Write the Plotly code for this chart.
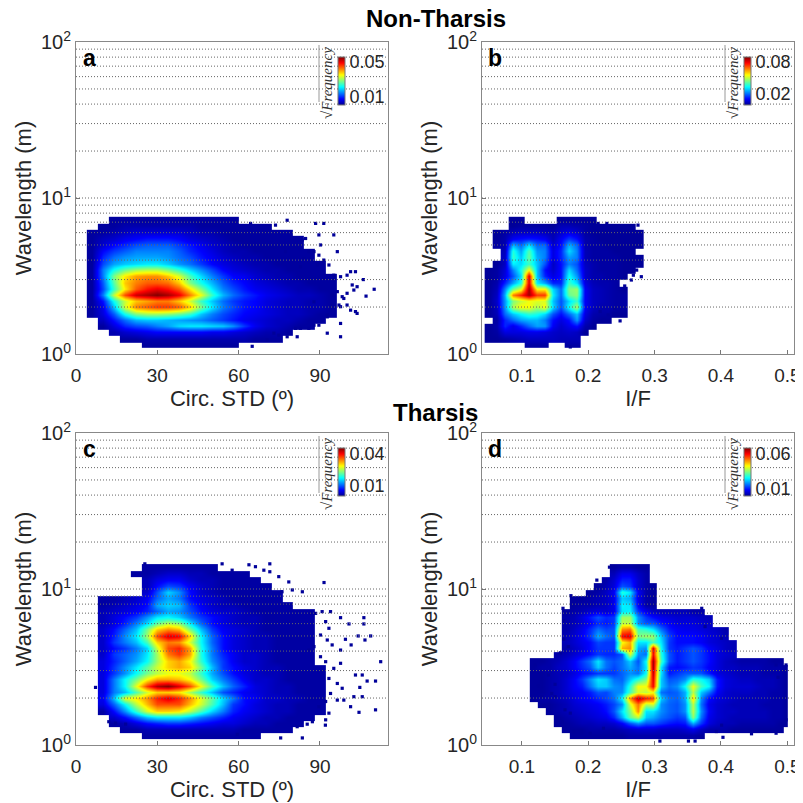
import plotly.graph_objects as go

_ = None
WAVE = [1.15,1.26,1.38,1.51,1.66,1.82,2.0,2.19,2.4,2.63,2.88,3.16,3.47,3.8,4.17,4.57,5.01,5.5,6.03,6.61,7.24,7.94,8.71,9.55,10.5,11.5,12.6,13.8]
STD_X = [6,10,14,18,22,26,30,34,38,42,46,50,54,58,62,66,70,74,78,82,86,90,94,98,102,106,110]
IF_X_B = [0.05,0.062,0.074,0.086,0.098,0.11,0.122,0.134,0.146,0.158,0.17,0.182,0.194,0.206,0.218,0.23,0.242,0.254,0.266,0.278]
IF_X_D = [.118,.13,.142,.154,.166,.178,.19,.202,.214,.226,.238,.25,.262,.274,.286,.298,.31,.322,.334,.346,.358,.37,.382,.394,.406,.418,.43,.442,.454,.466,.478,.49,.497]
GRID_LINES = [2,3,4,5,6,7,8,9,10,20,30,40,50,60,70,80,90]

# values in units of 0.001 (sqrt frequency), rows from short to long wavelength
Z_A = [
[_,_,_,_,_,1,1,1,1,1,1,1,1,1],
[_,_,_,1,1,2,2,2,2,2,2,2,2,2,2,1,1,1],
[_,_,2,4,5,6,7,7,7,7,7,6,6,5,4,3,2,2,1],
[_,1,5,9,11,12,14,16,19,20,20,19,18,15,10,6,4,3,2,1,1],
[_,3,8,13,17,18,18,17,16,15,14,12,10,8,6,5,4,3,3,2,1,1],
[1,5,12,22,28,30,30,29,27,24,18,14,11,9,7,6,5,4,3,3,2,1,1],
[1,6,18,33,42,44,46,46,44,38,28,20,14,11,8,7,5,4,3,3,2,2,1],
[1,8,22,32,38,40,42,42,38,32,24,18,13,10,8,7,5,4,3,3,2,2,1],
[1,14,32,45,52,54,56,54,50,42,34,24,17,13,10,8,6,5,4,3,3,2,1],
[1,11,24,36,44,48,50,48,44,36,28,20,14,11,8,6,5,4,3,2,2,1,1],
[1,12,26,38,42,44,44,43,38,28,22,17,12,9,7,5,4,3,2,2,1,1,1],
[1,14,28,36,40,41,41,38,33,25,19,14,10,7,6,4,3,2,2,1,1,1,1],
[1,14,22,27,30,31,31,28,24,19,15,11,7,5,4,3,2,2,1,1,1,1],
[1,11,16,18,19,20,20,18,15,13,10,7,5,4,3,2,2,1,1,1,1,1],
[1,9,13,15,16,16,16,15,13,11,8,6,4,3,2,2,1,1,1,1,1],
[1,7,10,12,14,14,14,14,12,9,7,5,3,2,2,1,1,1,1,1,1],
[1,4,7,9,11,12,12,12,10,8,6,4,3,2,1,1,1,1,1,1],
[1,3,4,6,7,8,8,8,7,5,4,3,2,1,1,1,1,1,1,1],
[1,1,2,3,4,4,4,4,4,3,2,2,1,1,1,1,1,1,1],
[_,1,1,2,2,2,2,2,2,2,1,1,1,1,1,1,1],
[_,_,1,1,1,1,1,1,1,1,1,1,1,1],
]
Z_B = [
[_,_,_,_,_,2,2,2,_,_,2,2],
[1,1,2,3,4,5,5,5,5,4,4,4],
[1,2,8,8,8,9,9,8,6,5,6,5,1],
[1,3,14,9,14,20,25,24,10,6,9,12,3,1],
[_,2,14,20,25,27,27,22,12,8,12,24,6,2,1,1],
[1,4,20,28,33,37,35,30,18,12,20,28,8,3,2,2,1,1],
[1,5,24,48,55,55,48,55,30,18,34,48,10,5,3,3,2,2],
[1,6,24,44,50,54,52,52,28,18,30,38,10,5,4,3,2,2],
[1,5,26,66,74,85,72,72,32,20,42,45,10,5,4,3,2,2],
[1,4,22,42,52,85,55,55,30,20,44,46,10,5,4,3,2,1],
[1,3,14,25,35,80,32,25,14,14,38,30,8,4,3,3,2],
[1,2,8,18,30,80,28,14,8,12,34,24,6,3,3,2,2,1],
[1,2,7,22,34,55,28,12,6,12,30,20,6,3,2,2,2,1,1],
[_,1,5,32,30,38,28,18,5,12,22,18,5,3,2,2,2,1,1,1],
[_,_,5,38,28,42,26,22,8,14,25,22,4,2,2,2,2,1,1,1],
[_,_,4,36,25,40,24,22,8,14,30,22,4,2,2,2,1,1,1],
[_,2,3,26,20,30,20,20,6,12,26,20,3,2,2,1,1,1,1,1],
[_,1,3,10,12,13,12,10,4,10,16,12,3,2,1,1,1,1,1,1],
[_,1,2,4,5,5,5,4,3,6,8,6,2,1,1,1,1,1,1,1],
[_,_,_,1,2,2,2,2,1,4,4,3,2,1,1,1,1,1,1],
[_,_,_,1,1,_,_,_,_,1,1,1,1,1],
]
Z_C = [
[_,_,_,_,_,1,1,1,1,1,1,1,1,1,1,1],
[_,_,_,1,1,2,2,2,2,2,2,2,2,2,1,1,1,1,1],
[_,_,1,2,4,6,7,8,8,7,6,5,4,4,3,2,2,1,1,1],
[_,_,3,6,10,14,16,16,16,14,11,9,7,5,4,3,2,2,1,1,1],
[_,1,6,12,19,26,30,30,29,25,20,15,11,7,5,4,3,2,2,1,1,1],
[_,4,10,17,25,31,36,36,36,31,26,20,14,8,6,4,3,2,2,1,1,1],
[_,5,14,27,29,33,38,41,38,33,27,21,15,11,6,5,3,3,2,2,1,1],
[_,4,11,14,20,26,30,30,29,24,19,14,9,7,5,4,3,2,2,1,1,1],
[_,4,11,17,27,37,43,45,41,36,28,20,14,10,7,4,3,2,2,1,1,1],
[_,4,11,17,22,28,32,32,31,28,22,15,11,8,5,3,3,2,1,1,1,1],
[_,4,8,12,17,22,25,27,27,25,19,13,9,6,4,3,2,2,1,1,1,1],
[_,4,8,12,16,21,26,30,32,30,22,14,8,6,4,3,2,2,1,1,1,1],
[_,4,7,10,13,17,24,30,32,28,19,12,8,5,3,3,2,1,1,1,1],
[_,3,8,10,12,16,24,34,37,32,18,11,7,5,3,3,2,1,1,1,1],
[_,3,6,8,11,15,26,36,38,32,18,11,6,4,3,2,2,1,1,1,1],
[_,3,8,11,14,20,30,34,33,26,17,10,6,4,3,2,2,1,1,1,1],
[_,3,7,12,16,24,36,41,40,30,17,10,6,4,3,2,2,1,1,1,1],
[_,3,6,10,14,22,30,33,31,22,14,8,5,4,3,2,1,1,1,1,1],
[_,2,4,7,11,15,21,25,23,16,10,6,4,3,2,2,1,1,1,1,1],
[_,2,4,6,8,12,16,17,15,11,8,6,4,3,2,2,1,1,1,1,1],
[_,2,3,4,5,7,10,13,12,9,6,4,3,3,2,1,1,1,1,1,1],
[_,1,2,3,4,6,13,15,14,8,5,3,2,2,1,1,1,1,1],
[_,1,1,2,3,5,10,13,11,6,4,3,2,1,1,1,1,1],
[_,_,_,_,_,3,9,15,12,6,3,2,1,1,1,1,1,1],
[_,_,_,_,_,2,6,9,8,5,3,2,1,1,1,1,1],
[_,_,_,_,_,2,4,5,5,3,2,2,1,1,1,1],
[_,_,_,_,1,1,2,3,3,2,2,1,1,1,1],
[_,_,_,_,_,1,1,1,1,1,1,1],
]
Z_D = [
[_,_,_,_,_,1,1,1,1,1,1,1,2,2,2,2,2,2,2,2,2,1],
[_,_,_,_,1,1,1,2,2,2,2,3,4,5,5,5,4,4,4,5,7,4,2,2,2,1,1,1,1,1,1,1],
[_,_,_,1,1,2,3,3,4,4,5,8,14,18,14,14,12,10,9,10,20,12,6,4,3,3,2,2,2,2,2,1,1],
[_,_,_,1,2,3,4,5,6,7,11,20,32,38,22,20,16,14,12,14,35,16,7,5,4,3,3,3,3,3,2,2,1],
[_,_,1,2,3,4,5,6,7,9,14,24,34,50,24,24,18,15,14,18,38,18,8,5,4,4,3,3,3,3,2,2,1],
[_,1,1,2,3,5,6,7,8,10,13,18,40,52,38,40,18,15,14,18,38,16,7,5,4,3,3,3,3,2,2,2,1],
[1,2,2,3,4,6,8,9,11,13,16,25,50,64,58,55,22,16,15,20,45,18,9,6,5,4,3,3,3,3,2,2,1],
[1,1,2,3,5,7,8,10,14,13,17,18,30,40,38,42,16,14,15,20,38,22,16,8,5,4,4,4,3,3,2,2,1],
[1,1,2,3,5,8,10,16,22,22,18,17,28,42,42,60,22,16,18,26,42,30,25,10,6,5,5,5,4,3,3,2,1],
[1,1,2,3,5,8,12,18,24,22,16,15,22,28,34,62,22,14,15,18,28,26,22,10,6,5,4,4,3,3,3,2,1],
[1,1,2,3,4,6,9,10,12,12,12,15,18,16,26,64,24,10,12,14,14,14,10,6,5,4,3,3,3,2,2,2,1],
[1,2,2,4,5,8,11,14,22,16,13,16,20,16,24,66,24,10,9,10,12,11,8,6,4,4,3,3,3,2,2,2,1],
[1,1,2,3,5,8,12,16,24,16,14,16,22,14,26,66,30,14,10,12,14,12,9,6,4,3,2,2,2,2,1,1],
[_,_,_,2,3,5,7,9,12,11,11,14,40,18,16,60,28,14,10,12,14,12,9,6,5,4],
[_,_,_,_,2,4,6,9,12,12,12,48,50,20,18,62,26,12,10,12,14,12,8,6,4,3],
[_,_,_,_,3,5,7,9,13,12,12,42,48,24,24,30,24,12,9,9,9,8,6,5,4,3],
[_,_,_,_,3,5,8,12,20,16,14,60,62,34,36,36,22,13,9,9,9,8,6,5,3],
[_,_,_,_,2,4,7,11,16,13,14,50,52,30,28,24,16,10,8,7,7,6,5,4,2],
[_,_,_,_,2,3,5,8,11,10,12,38,38,18,14,14,10,8,6,6,6,5,4],
[_,_,_,_,2,3,6,10,14,11,12,36,36,18,12,9,7,6,5,5,5,4,3],
[_,_,_,_,1,2,3,5,6,5,7,24,25,12,7,4,3,3,3,3,2,2],
[_,_,_,_,_,1,2,2,3,4,7,25,24,8,2,1],
[_,_,_,_,_,1,1,2,3,4,7,22,20,7,2,1],
[_,_,_,_,_,_,_,1,2,4,8,28,24,8,2,1],
[_,_,_,_,_,_,_,_,1,3,6,14,12,5,2,1],
[_,_,_,_,_,_,_,_,_,2,5,10,10,5,2],
[_,_,_,_,_,_,_,_,_,_,3,7,7,4,2],
[_,_,_,_,_,_,_,_,_,_,1,2,2,1,1],
]

SPECK_A_X = [96.4,101.3,103.1,103.7,100,98.8,103.7,101.3,97.6,97.6,97.6,92.7,87.8,82.8,81.6,77.9,95.1,91.4,88.4,77.9,73.6,64.4,89.6,84.7,77.3,82.8,65,92.7,87.8,95.1,110,107,106,
             83.5,85.9,87.8,90.2,84.1,86.5,89.6,91.4,93.3,89,95.1,97.6,100,101.9,96.4,94.5,98.2,102.5,94.5,97,100,103.1,92.7,90.8,89.6,85.9,81,74.8,73,70.5]
SPECK_A_Y = [4.53,3.37,3.37,2.7,2.45,2.27,1.82,1.91,2.01,1.57,1.29,1.36,1.53,1.46,1.29,1.29,5.8,6.87,6.87,7.2,6.7,6.87,5.8,5.5,4.53,3.63,1.12,1.73,2.16,3.2,2.6,2.35,3.0,
             5.38,4.53,4.53,5.0,4.1,4.1,4.3,4.0,3.72,3.72,2.98,3.13,3.2,2.77,2.51,2.39,2.33,2.57,2.06,2.06,2.06,1.87,1.78,1.65,1.53,1.46,1.46,1.32,1.36,1.23]
SPECK_B_X = [.275,.268,.278,.253,.28,.265,.258,.273,.268,.28,.265,.255,.248,.24,.238,.23,.223,.218,.173,.047,.228,.215]
SPECK_B_Y = [6.7,6.55,5.93,5.93,5.65,4.53,3.72,3.45,3.2,3.13,2.98,2.73,1.63,1.96,1.82,1.78,1.65,1.87,1.11,1.5,6.87,6.87]
SPECK_C_X = [25.4,53.9,57.6,63.8,66.2,69.3,71.5,71.5,74.8,78.5,91.5,83.5,79.8,76,106.2,97.6,100.7,106.2,104.1,108.7,106.6,101.5,99.4,112.4,103.1,105.6,110.5,107.4,104.7,102.5,105.6,98.8,110.5,104.4,101.3,7.2,12.1,18.3,14.6,83.5,75.5,59.5,85.3,92,
             86.5,88.4,90.8,93.9,92.1,93.3,90.2,92.7,94.5,97.6,87.8,85.9,90.2,92.1,97.6,95.1,93.3,96.4,98.2,93.9,92.1,96.4,89.6,93.3,92.1,87.2,81.6]
SPECK_C_Y = [14.5,14.5,13.2,14.3,13.9,13.2,14.5,12.9,12.0,11.1,11,9.6,9.86,9.6,6.55,6.55,5.97,5.97,5.0,5.0,4.71,4.38,4.76,3.42,2.81,2.81,2.57,2.57,2.34,2.04,2.04,1.94,1.68,1.62,1.76,2.34,1.41,1.36,1.38,1.11,1.11,1.17,1.36,1.34,
             6.98,6.98,7.16,7.16,6.18,5.6,5.07,4.71,4.38,4.06,4.27,4.06,3.68,3.42,3.34,3.1,2.67,2.48,2.31,2.14,1.9,1.94,1.76,1.6,1.45,1.41,1.31]
SPECK_D_X = [.232,.213,.174,.162,.163,.163,.17,.158,.12,.14,.15,.125,.13,.145,.15,.133,.165,.173,.161,.178,.19,.203,.223,.371,.376,.401,.483,.498,.486,.498,.446,.483,.401,.393,.308,.351,.361,.403]
SPECK_D_Y = [13.8,11.4,9.06,7.52,6.27,4.76,4.27,3.9,3.26,2.81,2.45,2.39,2.04,2.14,2.04,1.79,1.68,1.6,1.41,1.22,1.19,1.19,1.28,7.52,5.74,4.83,3.26,3.26,2.72,1.45,1.18,1.19,1.34,1.22,1.06,1.06,1.06,1.12]

CB_TICKS_A, CB_TEXT_A, ZMAX_A = [10,50], ["0.01","0.05"], 56
CB_TICKS_B, CB_TEXT_B, ZMAX_B = [20,80], ["0.02","0.08"], 88
CB_TICKS_C, CB_TEXT_C, ZMAX_C = [10,40], ["0.01","0.04"], 45
CB_TICKS_D, CB_TEXT_D, ZMAX_D = [10,60], ["0.01","0.06"], 68

FONT = "Liberation Sans"
# the page adds an 8 px margin round the figure, so the figure is 795 px and page positions are shifted by 8
W = H = 795
OFF = 8
def fx(px): return (px-OFF)/W
def fy(py): return 1-(py-OFF)/H
JET = [[0,"#00008F"],[0.125,"#0000FF"],[0.375,"#00FFFF"],[0.625,"#FFFF00"],[0.875,"#FF0000"],[1,"#800000"]]

def pad(rows, n):
    return [r + [None]*(n-len(r)) for r in rows]

panels = [
  dict(k="", z=Z_A, xs=STD_X, sx=SPECK_A_X, sy=SPECK_A_Y, zmax=ZMAX_A, ct=CB_TICKS_A, cl=CB_TEXT_A, L=76, T=42, xr=[0,115.1], xt=[0,30,60,90], xl=["0","30","60","90"], xtitle="Circ. STD (º)", tag="a"),
  dict(k="2", z=Z_B, xs=IF_X_B, sx=SPECK_B_X, sy=SPECK_B_Y, zmax=ZMAX_B, ct=CB_TICKS_B, cl=CB_TEXT_B, L=482, T=42, xr=[0.04,0.51], xt=[.1,.2,.3,.4,.5], xl=["0.1","0.2","0.3","0.4","0.5"], xtitle="I/F", tag="b"),
  dict(k="3", z=Z_C, xs=STD_X, sx=SPECK_C_X, sy=SPECK_C_Y, zmax=ZMAX_C, ct=CB_TICKS_C, cl=CB_TEXT_C, L=76, T=433, xr=[0,115.1], xt=[0,30,60,90], xl=["0","30","60","90"], xtitle="Circ. STD (º)", tag="c"),
  dict(k="4", z=Z_D, xs=IF_X_D, sx=SPECK_D_X, sy=SPECK_D_Y, zmax=ZMAX_D, ct=CB_TICKS_D, cl=CB_TEXT_D, L=482, T=433, xr=[0.04,0.51], xt=[.1,.2,.3,.4,.5], xl=["0.1","0.2","0.3","0.4","0.5"], xtitle="I/F", tag="d"),
]
PW, PH = 312, 312

fig = go.Figure()
layout = dict(width=W, height=H, margin=dict(l=0,r=0,t=0,b=0,autoexpand=False), paper_bgcolor="white", plot_bgcolor="white",
              showlegend=False, font=dict(family=FONT, size=18, color="#262626"))
shapes, annos = [], []
for p in panels:
    k, L, T = p["k"], p["L"], p["T"]
    rows = pad(p["z"], len(p["xs"]))
    fig.add_trace(go.Heatmap(x=p["xs"], y=WAVE[:len(rows)], z=rows, zmin=0, zmax=p["zmax"], colorscale=JET, zsmooth="best",
        xaxis="x"+k, yaxis="y"+k, hoverongaps=False,
        colorbar=dict(x=fx(L+262), xanchor="left", y=fy(T+39), yanchor="middle", lenmode="pixels", len=48, thickness=7,
                      xpad=0, ypad=0, outlinecolor="#777", outlinewidth=1, tickmode="array", tickvals=p["ct"], ticktext=p["cl"],
                      ticks="", tickfont=dict(family=FONT, size=18, color="#262626"))))
    fig.add_trace(go.Scatter(x=p["sx"], y=p["sy"], mode="markers", xaxis="x"+k, yaxis="y"+k,
        marker=dict(symbol="square", size=3.2, color="#00009A", line=dict(width=0)), hoverinfo="skip"))
    layout["xaxis"+k] = dict(domain=[fx(L),fx(L+PW)], range=p["xr"], anchor="y"+k, tickmode="array", tickvals=p["xt"], ticktext=p["xl"],
        ticks="inside", ticklen=4, tickcolor="#777", showgrid=False, zeroline=False, showline=True, mirror=True, linecolor="#888", linewidth=1,
        tickfont=dict(size=19), ticklabelstandoff=4, title=dict(text=p["xtitle"], font=dict(size=22), standoff=1))
    layout["yaxis"+k] = dict(domain=[fy(T+PH),fy(T)], type="log", range=[0,2], anchor="x"+k, tickmode="array", tickvals=[1,10,100],
        ticktext=["10<sup>0</sup>","10<sup>1</sup>","10<sup>2</sup>"], ticks="inside", ticklen=4, tickcolor="#777", showgrid=False, zeroline=False,
        showline=True, mirror=True, linecolor="#888", linewidth=1, tickfont=dict(size=20),
        title=dict(text="Wavelength (m)", font=dict(size=22), standoff=3))
    xd = "x"+k+" domain"
    for g in GRID_LINES:
        shapes.append(dict(type="line", xref=xd, x0=0, x1=1, yref="y"+k, y0=g, y1=g, layer="above",
                           line=dict(color="#666", width=1, dash="1px,2px")))
    annos.append(dict(xref="paper", yref="paper", x=fx(L+13), y=fy(T+16), xanchor="center", yanchor="middle", text="<b>"+p["tag"]+"</b>", showarrow=False, font=dict(size=23, color="black")))
    annos.append(dict(xref="paper", yref="paper", x=fx(L+251), y=fy(T+41), xanchor="center", yanchor="middle", text="√<i>Frequency</i>", textangle=-90, showarrow=False,
                      font=dict(family="Liberation Serif", size=15, color="#333")))
    shapes.append(dict(type="line", xref="paper", yref="paper", x0=fx(L+243), x1=fx(L+243), y0=fy(T+60), y1=fy(T+3), line=dict(color="#999", width=1)))
annos.append(dict(xref="paper", yref="paper", x=fx(436), y=fy(19), xanchor="center", yanchor="middle", text="<b>Non-Tharsis</b>", showarrow=False, font=dict(size=24, color="black")))
annos.append(dict(xref="paper", yref="paper", x=fx(435), y=fy(412), xanchor="center", yanchor="middle", text="<b>Tharsis</b>", showarrow=False, font=dict(size=24, color="black")))
layout["shapes"] = shapes
layout["annotations"] = annos
fig.update_layout(**layout)
fig.write_html("out.html")
